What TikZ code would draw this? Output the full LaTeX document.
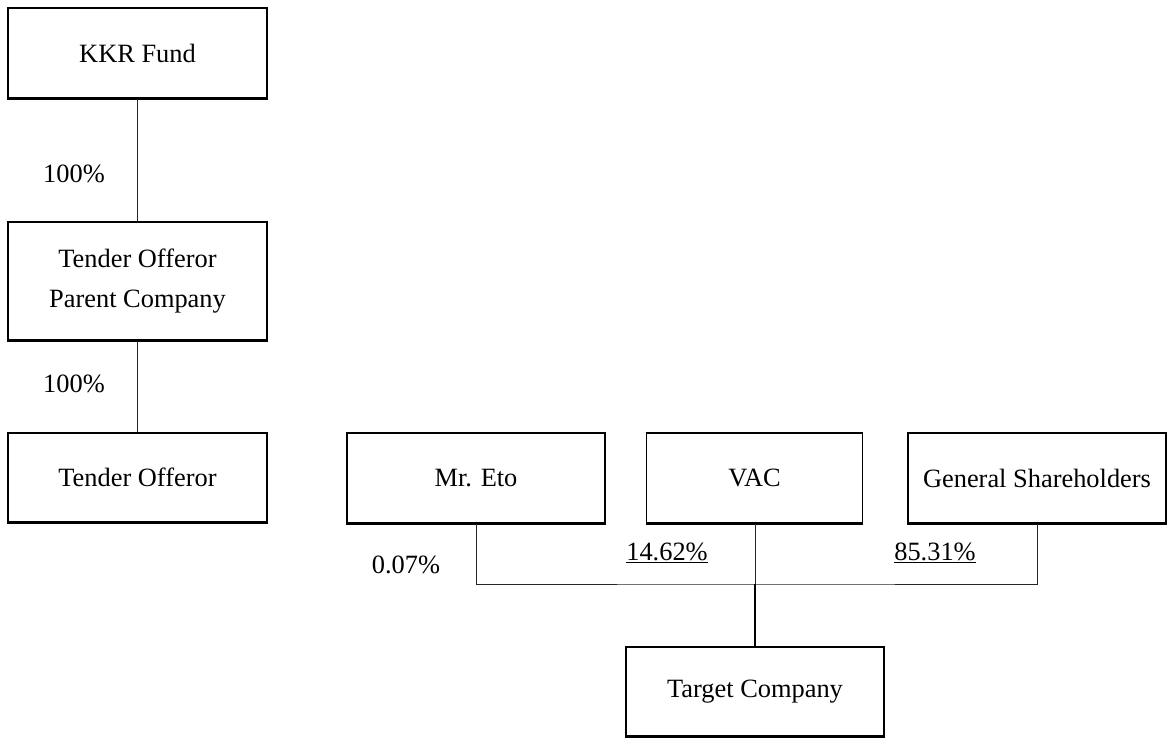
\documentclass[tikz,border=0pt]{standalone}
\usepackage{fontspec}
\setmainfont{Liberation Serif}
\begin{document}
\begin{tikzpicture}[x=1pt,y=-1pt,
  txt/.style={font=\fontsize{26.4}{40}\selectfont},
  boxx/.style={txt, draw, line width=1.6pt, inner sep=0pt, align=center,
    append after command={[line width=3pt, line cap=rect]
      (\tikzlastnode.north west) edge (\tikzlastnode.north east)
      (\tikzlastnode.south west) edge (\tikzlastnode.south east)}},
  conn/.style={line width=1pt, black!85},
  bold/.style={line width=2pt, black},
  pct/.style={txt, anchor=base, inner sep=0pt}]
\useasboundingbox (0,0) rectangle (1168,738);
\node[boxx, minimum width=259, minimum height=90] (kkr) at (137.5,53) {KKR Fund};
\node[boxx, minimum width=259, minimum height=118] (parent) at (137.5,281) {Tender Offeror\\Parent Company};
\node[boxx, minimum width=259, minimum height=89] (to) at (137.5,477.5) {Tender Offeror};
\node[boxx, minimum width=258, minimum height=90] (eto) at (476,478) {Mr. Eto};
\node[boxx, minimum width=216, minimum height=90] (vac) at (754.5,478) {VAC};
\node[boxx, minimum width=258, minimum height=90] (gs) at (1037,478) {General Shareholders};
\node[boxx, minimum width=258, minimum height=89] (target) at (755,691.5) {Target Company};
\coordinate (j) at (755,584);
\draw[conn] (kkr.south) -- (parent.north);
\draw[conn] (parent.south) -- (to.north);
\draw[conn] (eto.south) |- (j) -| (gs.south);
\draw[conn] (vac.south -| j) -- (j);
\draw[bold] (j) -- (target.north);
\node[pct] (p1) at (74,183) {100\%};
\node[pct] (p2) at (74,392) {100\%};
\node[pct] (p3) at (406,573) {0.07\%};
\node[pct] (p4) at (667,560) {\underline{14.62\%}};
\node[pct] (p5) at (935,560) {\underline{85.31\%}};
\end{tikzpicture}
\end{document}
